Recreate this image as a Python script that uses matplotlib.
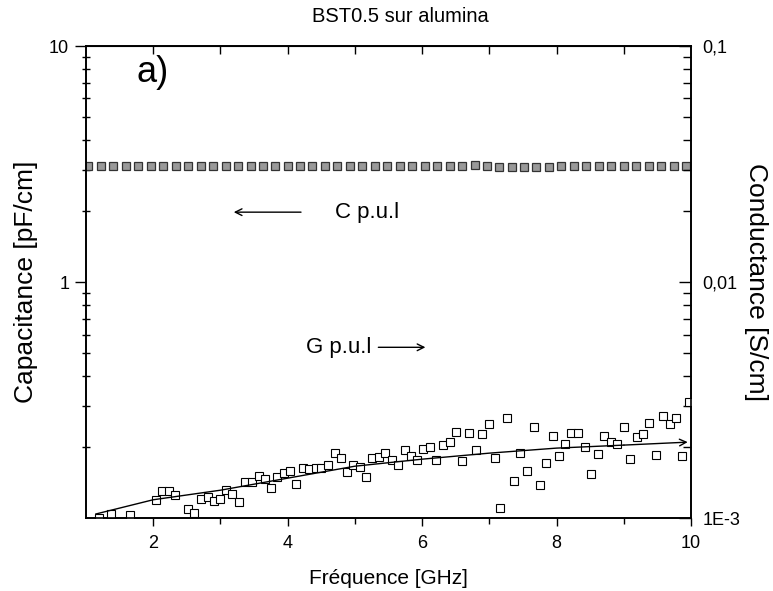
import matplotlib.pyplot as plt
from matplotlib.ticker import FixedLocator, NullFormatter

plt.rcParams['font.family'] = ['Liberation Sans', 'DejaVu Sans']

# capacitance per unit length (pF/cm), left axis
freq_c = [1.04, 1.22, 1.41, 1.6, 1.78, 1.97, 2.15, 2.34, 2.52, 2.71, 2.89, 3.08,
          3.26, 3.45, 3.63, 3.82, 4.0, 4.19, 4.37, 4.56, 4.74, 4.93, 5.11, 5.3,
          5.48, 5.67, 5.85, 6.04, 6.22, 6.41, 6.59, 6.78, 6.96, 7.15, 7.33, 7.52,
          7.7, 7.89, 8.07, 8.26, 8.44, 8.63, 8.81, 9.0, 9.18, 9.37, 9.55, 9.74, 9.92]
cap = [3.12, 3.11, 3.12, 3.12, 3.11, 3.12, 3.12, 3.11, 3.12, 3.12, 3.11, 3.12,
       3.12, 3.11, 3.12, 3.12, 3.11, 3.12, 3.12, 3.11, 3.12, 3.12, 3.11, 3.12,
       3.12, 3.11, 3.12, 3.12, 3.12, 3.11, 3.12, 3.13, 3.10, 3.09, 3.09, 3.08,
       3.09, 3.08, 3.10, 3.12, 3.12, 3.12, 3.12, 3.12, 3.11, 3.12, 3.12, 3.12, 3.12]

# conductance per unit length (S/cm), right axis
freq_g = [1.19, 1.38, 1.66, 2.05, 2.14, 2.23, 2.33, 2.52, 2.61, 2.71, 2.81, 2.9,
          2.99, 3.09, 3.18, 3.28, 3.37, 3.47, 3.57, 3.66, 3.76, 3.85, 3.94, 4.04,
          4.13, 4.23, 4.32, 4.42, 4.5, 4.6, 4.7, 4.79, 4.88, 4.97, 5.07, 5.16,
          5.26, 5.36, 5.45, 5.55, 5.64, 5.74, 5.83, 5.93, 6.02, 6.12, 6.21, 6.31,
          6.41, 6.5, 6.6, 6.7, 6.8, 6.89, 6.99, 7.08, 7.16, 7.26, 7.36, 7.46,
          7.56, 7.66, 7.75, 7.84, 7.94, 8.03, 8.13, 8.22, 8.32, 8.42, 8.51, 8.61,
          8.71, 8.81, 8.9, 9.0, 9.09, 9.19, 9.29, 9.38, 9.48, 9.58, 9.68, 9.78,
          9.87, 9.97]
cond = [1.0e-3, 1.04e-3, 1.03e-3, 1.19e-3, 1.30e-3, 1.31e-3, 1.26e-3, 1.10e-3,
        1.05e-3, 1.21e-3, 1.23e-3, 1.18e-3, 1.21e-3, 1.32e-3, 1.27e-3, 1.17e-3,
        1.43e-3, 1.43e-3, 1.51e-3, 1.47e-3, 1.35e-3, 1.50e-3, 1.55e-3, 1.58e-3,
        1.40e-3, 1.63e-3, 1.61e-3, 1.63e-3, 1.64e-3, 1.69e-3, 1.89e-3, 1.80e-3,
        1.57e-3, 1.69e-3, 1.65e-3, 1.50e-3, 1.80e-3, 1.81e-3, 1.89e-3, 1.76e-3,
        1.68e-3, 1.94e-3, 1.83e-3, 1.76e-3, 1.96e-3, 2.01e-3, 1.77e-3, 2.04e-3,
        2.11e-3, 2.32e-3, 1.75e-3, 2.29e-3, 1.94e-3, 2.27e-3, 2.50e-3, 1.80e-3,
        1.11e-3, 2.67e-3, 1.44e-3, 1.89e-3, 1.58e-3, 2.43e-3, 1.38e-3, 1.72e-3,
        2.24e-3, 1.84e-3, 2.07e-3, 2.29e-3, 2.29e-3, 2.01e-3, 1.54e-3, 1.88e-3,
        2.24e-3, 2.11e-3, 2.06e-3, 2.44e-3, 1.79e-3, 2.21e-3, 2.27e-3, 2.53e-3,
        1.85e-3, 2.72e-3, 2.52e-3, 2.67e-3, 1.83e-3, 3.11e-3]

# fitted trend of the conductance
fit_f = [1.15, 2, 3, 4, 5, 6, 7, 8, 9, 9.95]
fit_g = [1.043e-3, 1.198e-3, 1.315e-3, 1.479e-3, 1.662e-3, 1.78e-3, 1.888e-3,
         1.983e-3, 2.042e-3, 2.102e-3]

fig = plt.figure(figsize=(7.73, 5.91), dpi=100)
ax = fig.add_axes([0.111, 0.123, 0.783, 0.799])
ax2 = ax.twinx()

ax.plot(freq_c, cap, 's', ms=5.5, mfc='#999999', mec='#333333', mew=0.9)
ax.set_xlim(1, 10)
ax.set_yscale('log')
ax.set_ylim(0.1, 10)
ax.yaxis.set_major_locator(FixedLocator([1, 10]))
ax.yaxis.set_minor_locator(FixedLocator([0.2, 0.3, 0.4, 0.5, 0.6, 0.7, 0.8, 0.9,
                                          2, 3, 4, 5, 6, 7, 8, 9]))
ax.set_yticklabels(['1', '10'])
ax.yaxis.set_minor_formatter(NullFormatter())
ax.set_xticks([2, 4, 6, 8, 10])
ax.set_xticks([3, 5, 7, 9], minor=True)
ax.tick_params(axis='x', which='major', direction='out', length=6, width=1,
               labelsize=13, pad=6)
ax.tick_params(axis='x', which='minor', direction='out', length=4, width=1)
ax.tick_params(axis='y', which='major', direction='out', length=8, width=1,
               labelsize=13, pad=4)
ax.tick_params(axis='y', which='minor', direction='inout', length=6, width=1)

top = ax.secondary_xaxis('top')
top.set_xticks([2, 3, 4, 5, 6, 7, 8, 9])
top.tick_params(direction='in', length=6, width=1, labeltop=False)

ax2.plot(freq_g, cond, 's', ms=5.5, mfc='white', mec='black', mew=0.8)
ax2.plot(fit_f[:-1], fit_g[:-1], '-', color='black', lw=1)
ax2.annotate('', xy=(fit_f[-1], fit_g[-1]), xytext=(fit_f[-2], fit_g[-2]),
             arrowprops=dict(arrowstyle='->', color='black', lw=1,
                             shrinkA=0, shrinkB=0, mutation_scale=12))
ax2.set_yscale('log')
ax2.set_ylim(1e-3, 0.1)
ax2.yaxis.set_major_locator(FixedLocator([1e-3, 1e-2, 1e-1]))
ax2.set_yticklabels(['1E-3', '0,01', '0,1'])
ax2.yaxis.set_minor_locator(FixedLocator([k * 1e-3 for k in range(2, 10)] +
                                         [k * 1e-2 for k in range(2, 10)]))
ax2.yaxis.set_minor_formatter(NullFormatter())
ax2.tick_params(axis='y', which='major', direction='in', length=9, width=1,
                labelsize=13, pad=8)
ax2.tick_params(axis='y', which='minor', direction='in', length=6, width=1)

for a in (ax, ax2):
    for s in a.spines.values():
        s.set_linewidth(1.2)

ax.set_title('BST0.5 sur alumina', fontsize=14.5, x=0.52, pad=17)
ax.set_xlabel('Fréquence [GHz]', fontsize=15, labelpad=12)
ax.set_ylabel('Capacitance [pF/cm]', fontsize=19, labelpad=8)
ax2.set_ylabel('Conductance [S/cm]', fontsize=19, rotation=270, labelpad=20)

ax.text(1.75, 7.7, 'a)', fontsize=26, va='center', ha='left')
ax.annotate('', xy=(3.2, 1.98), xytext=(4.2, 1.98),
            arrowprops=dict(arrowstyle='->', color='black', lw=1,
                            shrinkA=0, shrinkB=0, mutation_scale=12))
ax.text(4.7, 1.98, 'C p.u.l', fontsize=16, va='center', ha='left')
ax.text(4.27, 0.53, 'G p.u.l', fontsize=16, va='center', ha='left')
ax.annotate('', xy=(6.05, 0.53), xytext=(5.35, 0.53),
            arrowprops=dict(arrowstyle='->', color='black', lw=1,
                            shrinkA=0, shrinkB=0, mutation_scale=12))

fig.savefig('out.png', dpi=100)
